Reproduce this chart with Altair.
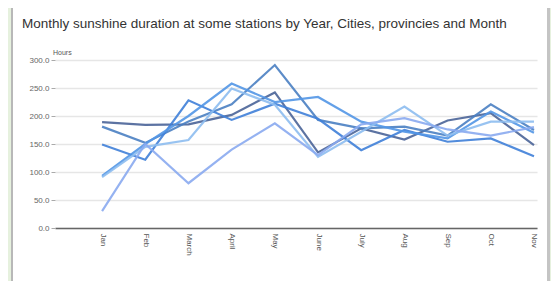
import altair as alt
import pandas as pd

months = ["Jan", "Feb", "March", "April", "May", "June", "July", "Aug", "Sep", "Oct", "Nov"]
series_names = ["Station 1", "Station 2", "Station 3", "Station 4", "Station 5", "Station 6"]
s1 = [189, 184, 185, 202, 242, 135, 178, 158, 192, 205, 148]
s2 = [181, 152, 190, 221, 291, 193, 178, 181, 165, 221, 175]
s3 = [149, 122, 228, 193, 222, 195, 139, 175, 154, 160, 128]
s4 = [93, 150, 200, 258, 225, 234, 190, 172, 160, 208, 170]
s5 = [91, 145, 157, 249, 220, 127, 172, 217, 165, 190, 190]
s6 = [30, 150, 80, 140, 187, 130, 185, 196, 176, 165, 180]
colors = ["#4a6498", "#4a80c2", "#3f7fd8", "#5296e6", "#8dbcf0", "#8aaaf0"]
title_text = "Monthly sunshine duration at some stations by Year, Cities, provincies and Month"
y_ticks = [0, 50, 100, 150, 200, 250, 300]

rows = []
for name, vals in zip(series_names, [s1, s2, s3, s4, s5, s6]):
    for i, (m, v) in enumerate(zip(months, vals)):
        rows.append({"series": name, "month": m, "idx": i + 1, "hours": v})
df = pd.DataFrame(rows)

label_expr = "[" + ",".join("'" + m + "'" for m in months) + "][datum.value - 1]"

lines = alt.Chart(df).mark_line(strokeWidth=2.2, opacity=0.9).encode(
    x=alt.X("idx:Q", scale=alt.Scale(domain=[-0.09, 11.07], nice=False, zero=False),
            axis=alt.Axis(values=list(range(1, 12)), labelExpr=label_expr, title=None,
                          grid=False, ticks=False, labelAngle=90, labelAlign="left",
                          labelBaseline="middle", labelFontSize=8, labelColor="#555",
                          labelPadding=5, domainColor="#666", domainWidth=1.5,
                          labelFont="Liberation Sans")),
    y=alt.Y("hours:Q", scale=alt.Scale(domain=[0, 300], nice=False),
            axis=alt.Axis(values=y_ticks, format=".1f", title=None, grid=True,
                          gridColor="#e6e6e6", gridWidth=1.5, domain=False,
                          tickColor="#aaa", tickSize=4, labelFontSize=8,
                          labelColor="#666", labelPadding=2, labelFont="Liberation Sans")),
    color=alt.Color("series:N", scale=alt.Scale(domain=series_names, range=colors), legend=None),
    detail="series:N",
)

deco = pd.DataFrame({"t": [title_text]})
title = alt.Chart(deco).mark_text(align="left", baseline="middle", fontSize=13.5,
                                  font="Liberation Sans", color="#333").encode(
    text="t:N", x=alt.value(-33), y=alt.value(-36))

hours_df = pd.DataFrame({"t": ["Hours"]})
hours = alt.Chart(hours_df).mark_text(align="left", baseline="middle", fontSize=7,
                                      font="Liberation Sans", color="#555").encode(
    text="t:N", x=alt.value(-2), y=alt.value(-7))

left_strip = alt.Chart(deco).mark_rect(color="#e6f1de").encode(
    x=alt.value(-47), x2=alt.value(-44), y=alt.value(-52), y2=alt.value(221))
left_border = alt.Chart(deco).mark_rect(color="#b8b8b8").encode(
    x=alt.value(-44), x2=alt.value(-42), y=alt.value(-52), y2=alt.value(221))
right_strip = alt.Chart(deco).mark_rect(color="#e6f1de").encode(
    x=alt.value(495), x2=alt.value(496), y=alt.value(-52), y2=alt.value(221))
right_border = alt.Chart(deco).mark_rect(color="#c4c4c4").encode(
    x=alt.value(492), x2=alt.value(495), y=alt.value(-52), y2=alt.value(221))

chart = alt.layer(left_strip, left_border, right_strip, right_border, title, hours, lines).properties(
    width=482, height=168,
    autosize=alt.AutoSizeParams(type="none"),
    padding={"left": 47, "top": 52, "right": 14, "bottom": 53},
    background="#ffffff",
).configure_view(strokeWidth=0)

chart.save("out.html", embed_options={"renderer": "svg", "actions": False})
